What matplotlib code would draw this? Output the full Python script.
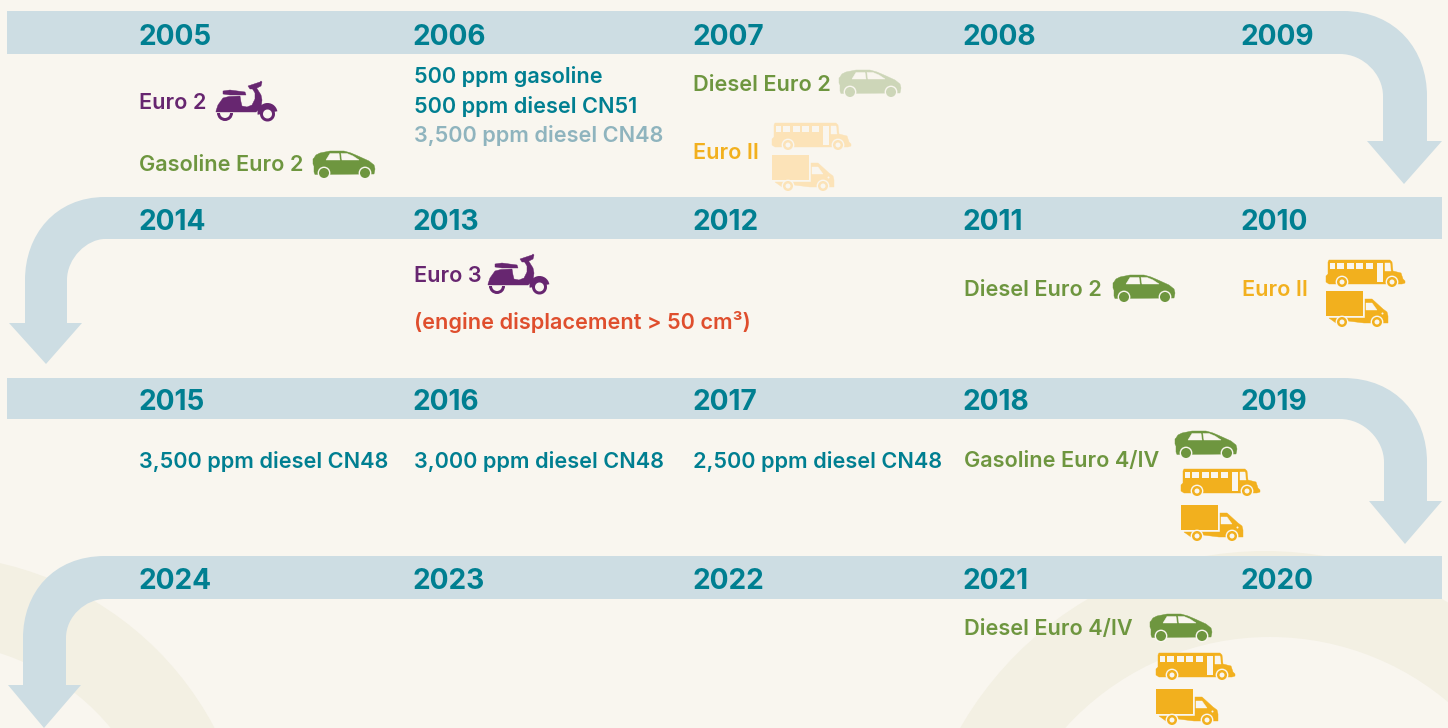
import matplotlib
matplotlib.use("Agg")
import matplotlib.pyplot as plt
from matplotlib.path import Path
from matplotlib.patches import PathPatch, Circle, Polygon, Rectangle, Wedge

# colours
bg = "#F9F6EF"
arc_col = "#F3F0E3"
band_col = "#CDDDE3"
teal = "#007F91"
purple = "#672670"
green = "#6E963F"
orange = "#F2B01E"
red = "#DF4E2D"
pale_blue = "#8FB4BE"
pale_green = "#CDD6B8"
pale_orange = "#FCE3B8"

# years on each row of the timeline
row1_years = ["2005", "2006", "2007", "2008", "2009"]
row2_years = ["2014", "2013", "2012", "2011", "2010"]
row3_years = ["2015", "2016", "2017", "2018", "2019"]
row4_years = ["2024", "2023", "2022", "2021", "2020"]
col_x = [138.5, 413, 692.5, 963, 1241]

# text, x, baseline y, colour
labels = [
    ("Euro 2", 139, 109, purple),
    ("Gasoline Euro 2", 139, 171, green),
    ("500 ppm gasoline", 414, 83, teal),
    ("500 ppm diesel CN51", 414, 113, teal),
    ("3,500 ppm diesel CN48", 414, 142, pale_blue),
    ("Diesel Euro 2", 693, 91, green),
    ("Euro II", 693, 159, orange),
    ("Euro 3", 414, 282, purple),
    ("(engine displacement > 50 cm³)", 414, 329, red),
    ("Diesel Euro 2", 964, 296, green),
    ("Euro II", 1242, 296, orange),
    ("3,500 ppm diesel CN48", 139, 468, teal),
    ("3,000 ppm diesel CN48", 414, 468, teal),
    ("2,500 ppm diesel CN48", 693, 468, teal),
    ("Gasoline Euro 4/IV", 964, 467, green),
    ("Diesel Euro 4/IV", 964, 635, green),
]

# icon kind, left, top, colour
icons = [
    ("scooter", 216, 82, purple),
    ("car", 313, 152, green),
    ("car", 839, 71, pale_green),
    ("bus", 772, 123, pale_orange),
    ("truck", 772, 155, pale_orange),
    ("scooter", 488, 255, purple),
    ("car", 1113, 276, green),
    ("bus", 1326, 260, orange),
    ("truck", 1326, 291, orange),
    ("car", 1175, 432, green),
    ("bus", 1181, 469, orange),
    ("truck", 1181, 505, orange),
    ("car", 1150, 615, green),
    ("bus", 1156, 653, orange),
    ("truck", 1156, 689, orange),
]

plt.rcParams["font.family"] = ["Inter", "DejaVu Sans"]

fig = plt.figure(figsize=(14.48, 7.28), dpi=100, facecolor=bg)
ax = fig.add_axes([0, 0, 1, 1])
ax.set_xlim(0, 1448)
ax.set_ylim(728, 0)
ax.axis("off")

#-----------background arcs-------------#
for cx, cy, r_out, r_in in [(-72, 879, 324, 237), (1265, 902, 351, None)]:
    ax.add_patch(Circle((cx, cy), r_out, color=arc_col, lw=0, zorder=0))
    if r_in:
        ax.add_patch(Circle((cx, cy), r_in, color=bg, lw=0, zorder=0))
ax.add_patch(Circle((1270, 913), 276, color=bg, lw=0, zorder=0))


#-----------bands with arrows-------------#
def band_right(top, bottom, left, shaft_l, shaft_r, curve_x, curve_y, arrow_y, head_l, head_r, tip_x, tip_y):
    verts = [(left, top), (curve_x + 3, top),
             (shaft_r - 30, top), (shaft_r, curve_y - 45), (shaft_r, curve_y),
             (shaft_r, arrow_y), (head_r, arrow_y), (tip_x, tip_y), (head_l, arrow_y), (shaft_l, arrow_y),
             (shaft_l, curve_y),
             (shaft_l, curve_y - 22), (shaft_l - 20, bottom), (curve_x, bottom),
             (left, bottom), (left, top)]
    codes = [Path.MOVETO, Path.LINETO, Path.CURVE4, Path.CURVE4, Path.CURVE4,
             Path.LINETO, Path.LINETO, Path.LINETO, Path.LINETO, Path.LINETO, Path.LINETO,
             Path.CURVE4, Path.CURVE4, Path.CURVE4, Path.LINETO, Path.CLOSEPOLY]
    ax.add_patch(PathPatch(Path(verts, codes), fc=band_col, lw=0, zorder=1))


def band_left(top, bottom, right, shaft_l, shaft_r, curve_x, curve_y, arrow_y, head_l, head_r, tip_x, tip_y):
    verts = [(right, top), (curve_x, top),
             (shaft_l + 30, top), (shaft_l, curve_y - 45), (shaft_l, curve_y),
             (shaft_l, arrow_y), (head_l, arrow_y), (tip_x, tip_y), (head_r, arrow_y), (shaft_r, arrow_y),
             (shaft_r, curve_y),
             (shaft_r, curve_y - 22), (shaft_r + 20, bottom), (curve_x, bottom),
             (right, bottom), (right, top)]
    codes = [Path.MOVETO, Path.LINETO, Path.CURVE4, Path.CURVE4, Path.CURVE4,
             Path.LINETO, Path.LINETO, Path.LINETO, Path.LINETO, Path.LINETO, Path.LINETO,
             Path.CURVE4, Path.CURVE4, Path.CURVE4, Path.LINETO, Path.CLOSEPOLY]
    ax.add_patch(PathPatch(Path(verts, codes), fc=band_col, lw=0, zorder=1))


band_right(11, 54, 7, 1383, 1427, 1340, 96, 141, 1367, 1442, 1404, 184)
band_left(197, 239, 1442, 25, 67, 105, 280, 323, 9, 82, 46, 364)
band_right(378, 419, 7, 1384, 1427, 1340, 462, 501, 1369, 1442, 1405, 544)
band_left(556, 599, 1442, 23, 66, 105, 638, 685, 8, 81, 44, 728)


#-----------icons-------------#
def wheel(x, y, r, col):
    ax.add_patch(Circle((x, y), r + 1.4, color=bg, lw=0, zorder=3))
    ax.add_patch(Circle((x, y), r, color=col, lw=0, zorder=4))


def ring(x, y, r, col):
    wheel(x, y, r, col)
    ax.add_patch(Circle((x, y), r * 0.5, color=bg, lw=0, zorder=5))


def poly(pts, x, y, col, z=2):
    ax.add_patch(Polygon([(x + a, y + b) for a, b in pts], closed=True, fc=col, ec=col, lw=0.3, zorder=z))


def car(x, y, col):
    poly([(1, 7), (3, 4), (7, 2), (17, 0), (31, 0), (38, 2), (45, 5), (56, 10), (61, 14), (62, 18), (61, 23),
          (2, 23.5), (1, 21), (1, 15), (0, 13), (0, 8)], x, y, col)
    poly([(13, 9), (17, 2.5), (26, 2.5), (27, 9)], x, y, bg, 3)
    poly([(28, 2.5), (34, 2.5), (40, 5), (46, 9), (29, 9)], x, y, bg, 3)
    wheel(x + 11, y + 22, 5, col)
    wheel(x + 52, y + 22, 5, col)


def bus(x, y, col):
    poly([(3, 0), (64, 0), (66, 2), (67, 11), (75, 13), (77, 19), (79, 21), (79, 23), (76, 24),
          (3, 24), (0, 22), (0, 16), (2, 14), (2, 2)], x, y, col)
    for a, b in [(4, 9), (11, 18), (21, 28), (30, 37), (40, 47)]:
        ax.add_patch(Rectangle((x + a, y + 3), b - a, 5.5, fc=bg, lw=0, zorder=3))
    ax.add_patch(Rectangle((x + 51, y + 3), 6, 19, fc=bg, lw=0, zorder=3))
    poly([(59, 3), (64, 3), (65, 11), (59, 11)], x, y, bg, 3)
    ring(x + 16, y + 22, 5, col)
    ring(x + 66, y + 22, 5, col)


def truck(x, y, col):
    ax.add_patch(Rectangle((x, y), 37, 25, fc=col, lw=0, zorder=2))
    poly([(39, 8), (46, 8), (57, 18), (61, 21), (62, 25), (62, 32), (38, 32), (22, 30), (10, 32), (3, 27), (39, 27)],
         x, y, col)
    poly([(40, 12), (46, 12), (51, 19), (40, 19)], x, y, bg, 3)
    ax.add_patch(Circle((x + 56.5, y + 22.5), 1, color=bg, lw=0, zorder=3))
    ring(x + 16, y + 31, 5, col)
    ring(x + 51, y + 31, 5, col)


def scooter(x, y, col):
    # seat
    poly([(7, 9), (14, 8), (29, 10), (30, 13), (14, 13), (7, 12)], x, y, col)
    # body
    poly([(0, 29), (2, 23), (7, 16), (13, 14.5), (24, 14), (25, 20), (26, 24), (31, 25), (36, 23), (39, 17),
          (39, 11), (36, 6), (40, 5), (45, 13), (46, 18), (45, 26), (40, 30), (0, 30)], x, y, col)
    # handlebars
    poly([(32, 4), (44, 0), (45, -1), (46, 0), (45, 4), (39, 7), (34, 7)], x, y, col)
    # front fender and wheel
    ax.add_patch(Wedge((x + 51.5, y + 31), 10, 170, 350, width=4.5, fc=col, lw=0, zorder=3))
    ax.add_patch(Wedge((x + 51.5, y + 32), 7.5, 0, 360, width=3, fc=col, lw=0, zorder=4))
    # rear wheel, only the lower half shows
    ax.add_patch(Wedge((x + 9, y + 31), 8, 0, 180, width=3, fc=col, lw=0, zorder=3))


draw = {"car": car, "bus": bus, "truck": truck, "scooter": scooter}
for kind, left, top, col in icons:
    draw[kind](left, top - 1 if kind == "car" else top, col)

#-----------text-------------#
for years, base in zip([row1_years, row2_years, row3_years, row4_years], [45, 230.5, 410.5, 589]):
    for year, x in zip(years, col_x):
        ax.text(x, base, year, color=teal, fontsize=20.2, fontweight="bold", va="baseline", ha="left", zorder=6)

for txt, x, base, col in labels:
    ax.text(x, base, txt, color=col, fontsize=15.6, fontweight="semibold", va="baseline", ha="left", zorder=6)

plt.savefig("out.png", dpi=100, facecolor=bg)
plt.close()
